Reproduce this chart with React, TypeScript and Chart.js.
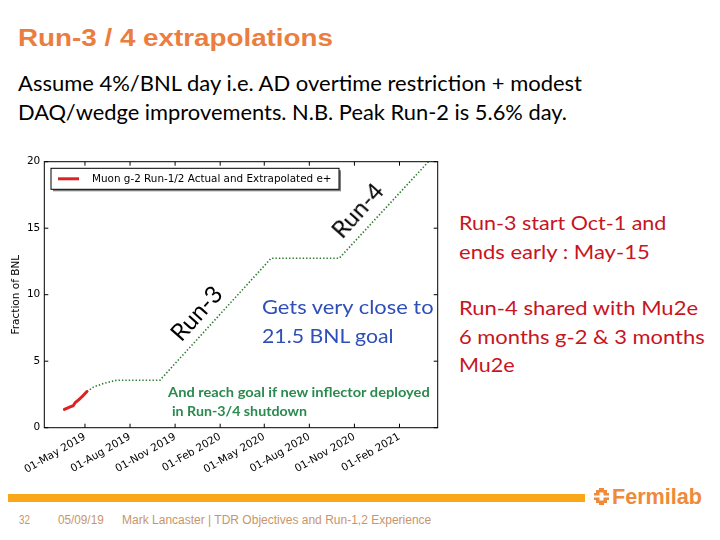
import React, { useEffect, useLayoutEffect, useRef } from "react";
import { Chart, registerables } from "chart.js";

Chart.register(...registerables);

// x values are days counted from 01-May-2019
const tickDays = [0, 92, 184, 276, 366, 458, 550, 642];
const tickLabels = [
  "01-May 2019",
  "01-Aug 2019",
  "01-Nov 2019",
  "01-Feb 2020",
  "01-May 2020",
  "01-Aug 2020",
  "01-Nov 2020",
  "01-Feb 2021",
];
const yTicks = [0, 5, 10, 15, 20];

const actualDays = [-42, -29, -24, -20, -13, -6, 4];
const actualValues = [1.38, 1.58, 1.65, 1.88, 2.1, 2.33, 2.72];

const projDays = [4, 17, 40, 65, 153, 380, 519, 701];
const projValues = [2.72, 3.05, 3.35, 3.57, 3.57, 12.74, 12.74, 20.0];

const legendLabel = "Muon g-2 Run-1/2 Actual and Extrapolated e+";
const yTitle = "Fraction of BNL";

const framePlugin = {
  id: "frameAndLegend",
  afterDraw(chart: any) {
    const { ctx, chartArea: ca, scales } = chart;
    ctx.save();
    ctx.strokeStyle = "#000";
    ctx.lineWidth = 1;
    ctx.strokeRect(ca.left, ca.top, ca.right - ca.left, ca.bottom - ca.top);
    const tl = 4;
    ctx.beginPath();
    scales.x.ticks.forEach((t: any) => {
      const px = scales.x.getPixelForValue(t.value);
      ctx.moveTo(px, ca.bottom);
      ctx.lineTo(px, ca.bottom - tl);
      ctx.moveTo(px, ca.top);
      ctx.lineTo(px, ca.top + tl);
    });
    scales.y.ticks.forEach((t: any) => {
      const py = scales.y.getPixelForValue(t.value);
      ctx.moveTo(ca.left, py);
      ctx.lineTo(ca.left + tl, py);
      ctx.moveTo(ca.right, py);
      ctx.lineTo(ca.right - tl, py);
    });
    ctx.stroke();

    // legend box (matplotlib style with shadow)
    const lx = ca.left + 6.7;
    const ly = ca.top + 6.6;
    const lw = 288;
    const lh = 21;
    ctx.fillStyle = "rgba(0,0,0,0.5)";
    ctx.fillRect(lx + 2, ly + 2, lw, lh);
    ctx.fillStyle = "#fff";
    ctx.fillRect(lx, ly, lw, lh);
    ctx.strokeStyle = "#000";
    ctx.strokeRect(lx, ly, lw, lh);
    const ds = chart.data.datasets[0];
    ctx.strokeStyle = ds.borderColor;
    ctx.lineWidth = 3;
    ctx.beginPath();
    ctx.moveTo(lx + 7, ly + lh / 2);
    ctx.lineTo(lx + 28, ly + lh / 2);
    ctx.stroke();
    ctx.fillStyle = "#000";
    ctx.font = "10.4px 'DejaVu Sans'";
    ctx.textBaseline = "middle";
    ctx.textAlign = "left";
    ctx.fillText(ds.label, lx + 41, ly + lh / 2 + 0.5);
    ctx.restore();
  },
};

function FitLine(props: {
  text: string;
  x: number;
  right: number;
  baseline: number;
  family: string;
  size: number;
  weight?: number;
  color: string;
  base: number;
}) {
  const ref = useRef<HTMLSpanElement>(null);
  useLayoutEffect(() => {
    const el = ref.current;
    if (!el) return;
    el.style.transform = "none";
    const w = el.getBoundingClientRect().width;
    if (w > 0) el.style.transform = `scaleX(${(props.right - props.x) / w})`;
  });
  return (
    <span
      ref={ref}
      style={{
        position: "absolute",
        left: props.x,
        top: props.baseline - props.base * props.size,
        fontFamily: props.family,
        fontSize: props.size,
        fontWeight: props.weight ?? 400,
        color: props.color,
        lineHeight: 1,
        whiteSpace: "pre",
        transformOrigin: "0 0",
      }}
    >
      {props.text}
    </span>
  );
}

const LATO = "Lato, 'Open Sans', sans-serif";
const LATO_BASE = 0.887;
const ARIAL = "'Liberation Sans', Arial, sans-serif";
const ARIAL_BASE = 0.8465;

export default function App() {
  const canvasRef = useRef<HTMLCanvasElement>(null);

  useEffect(() => {
    const canvas = canvasRef.current;
    if (!canvas) return;
    const chart = new Chart(canvas, {
      type: "line",
      data: {
        datasets: [
          {
            label: legendLabel,
            data: actualDays.map((d, i) => ({ x: d, y: actualValues[i] })),
            borderColor: "#dd2222",
            borderWidth: 3,
            pointRadius: 0,
            borderCapStyle: "round",
            borderJoinStyle: "round",
            fill: false,
            tension: 0,
          },
          {
            label: "projection",
            data: projDays.map((d, i) => ({ x: d, y: projValues[i] })),
            borderColor: "#2f7a2f",
            borderWidth: 1.6,
            borderDash: [1.4, 2],
            pointRadius: 0,
            fill: false,
            tension: 0,
          },
        ],
      },
      options: {
        animation: false,
        responsive: false,
        layout: { padding: { left: 0, top: 11.7, right: 7.3, bottom: 0 } },
        plugins: {
          legend: { display: false },
          tooltip: { enabled: false },
        },
        scales: {
          x: {
            type: "linear",
            min: -83,
            max: 720,
            grid: { display: false, drawTicks: false },
            border: { display: false },
            afterBuildTicks: (s: any) => {
              s.ticks = tickDays.map((v) => ({ value: v }));
            },
            afterFit: (s: any) => {
              s.height = 52.3;
            },
            ticks: {
              autoSkip: false,
              minRotation: 30,
              maxRotation: 30,
              padding: 3,
              color: "#000",
              font: { family: "'DejaVu Sans'", size: 10.5 },
              callback: (v: any) => tickLabels[tickDays.indexOf(Number(v))] ?? "",
            },
          },
          y: {
            min: 0,
            max: 20,
            grid: { display: false, drawTicks: false },
            border: { display: false },
            afterBuildTicks: (s: any) => {
              s.ticks = yTicks.map((v) => ({ value: v }));
            },
            afterFit: (s: any) => {
              s.width = 44.3;
            },
            ticks: {
              padding: 4,
              color: "#000",
              font: { family: "'DejaVu Sans'", size: 10.5 },
            },
            title: {
              display: true,
              text: yTitle,
              color: "#000",
              font: { family: "'DejaVu Sans'", size: 10.5 },
              padding: { top: 10.4, bottom: 0 },
            },
          },
        },
      },
      plugins: [framePlugin],
    } as any);
    return () => chart.destroy();
  }, []);

  const red = "#c8141e";
  const blue = "#2f4fb8";
  const green = "#2a8a4e";

  return (
    <div
      style={{
        position: "fixed",
        left: 0,
        top: 0,
        width: 720,
        height: 540,
        background: "#fff",
        overflow: "hidden",
      }}
    >
      <FitLine text="Run-3 / 4 extrapolations" x={18} right={333} baseline={46.7} family={ARIAL} size={23.5} weight={700} color="#eb7d3f" base={ARIAL_BASE} />
      <FitLine text="Assume 4%/BNL day i.e. AD overtime restriction + modest" x={18} right={582} baseline={91} family={LATO} size={21} color="#000" base={LATO_BASE} />
      <FitLine text="DAQ/wedge improvements. N.B. Peak Run-2 is 5.6% day." x={18} right={567} baseline={119.5} family={LATO} size={21} color="#000" base={LATO_BASE} />

      <canvas
        ref={canvasRef}
        width={445}
        height={330}
        style={{ position: "absolute", left: 0, top: 150, width: 445, height: 330 }}
      />

      <FitLine text="Run-3 start Oct-1 and" x={459.3} right={666.7} baseline={229.3} family={LATO} size={20} color={red} base={LATO_BASE} />
      <FitLine text="ends early : May-15" x={459.3} right={650} baseline={258.3} family={LATO} size={20} color={red} base={LATO_BASE} />
      <FitLine text="Run-4 shared with Mu2e" x={459.3} right={698.3} baseline={315} family={LATO} size={20} color={red} base={LATO_BASE} />
      <FitLine text="6 months g-2 & 3 months" x={459.3} right={705} baseline={343.3} family={LATO} size={20} color={red} base={LATO_BASE} />
      <FitLine text="Mu2e" x={459.3} right={515} baseline={371.7} family={LATO} size={20} color={red} base={LATO_BASE} />

      <FitLine text="Gets very close to" x={261.7} right={433.3} baseline={314} family={LATO} size={20} color={blue} base={LATO_BASE} />
      <FitLine text="21.5 BNL goal" x={261.7} right={393.3} baseline={342.7} family={LATO} size={20} color={blue} base={LATO_BASE} />

      <FitLine text="And reach goal if new inflector deployed" x={168.3} right={430} baseline={398.3} family={LATO} size={13.5} weight={700} color={green} base={LATO_BASE} />
      <FitLine text="in Run-3/4 shutdown" x={171.7} right={306.7} baseline={416.7} family={LATO} size={13.5} weight={700} color={green} base={LATO_BASE} />

      <div style={{ position: "absolute", left: 196, top: 313, transform: "translate(-50%,-50%) rotate(-48deg)", fontFamily: LATO, fontSize: 24, lineHeight: 1, color: "#000", whiteSpace: "pre" }}>Run-3</div>
      <div style={{ position: "absolute", left: 356.5, top: 210, transform: "translate(-50%,-50%) rotate(-48deg)", fontFamily: LATO, fontSize: 24, lineHeight: 1, color: "#000", whiteSpace: "pre" }}>Run-4</div>

      <div style={{ position: "absolute", left: 8, top: 494.3, width: 577, height: 7.4, background: "#f9a81a" }} />
      <FitLine text="32" x={19} right={30} baseline={523.7} family={ARIAL} size={12} color="#c8956b" base={ARIAL_BASE} />
      <FitLine text="05/09/19" x={58.3} right={104} baseline={523.7} family={ARIAL} size={12} color="#c8956b" base={ARIAL_BASE} />
      <FitLine text="Mark Lancaster | TDR Objectives and Run-1,2 Experience" x={121.7} right={431} baseline={523.7} family={ARIAL} size={12} color="#c8956b" base={ARIAL_BASE} />

      <svg style={{ position: "absolute", left: 594, top: 488.3 }} width={15} height={17} viewBox="0 0 15 17">
        <g fill="#ee8a3a">
          <rect x={5} y={0} width={5} height={3} />
          <rect x={2} y={2} width={11} height={3} />
          <rect x={0} y={5} width={15} height={2.5} />
          <rect x={0} y={9.5} width={15} height={2.5} />
          <rect x={2} y={12} width={11} height={3} />
          <rect x={5} y={14} width={5} height={3} />
        </g>
        <rect x={5.5} y={4.5} width={4} height={8} fill="#fff" />
      </svg>
      <FitLine text="Fermilab" x={611.7} right={701.7} baseline={505} family={ARIAL} size={22} weight={700} color="#ee8a3a" base={ARIAL_BASE} />
    </div>
  );
}
